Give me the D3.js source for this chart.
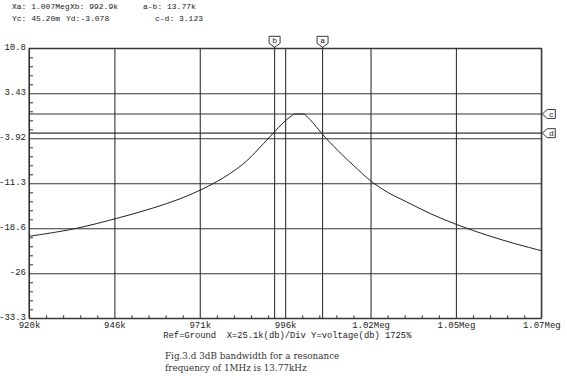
<!DOCTYPE html>
<html><head><meta charset="utf-8">
<script src="https://cdn.jsdelivr.net/npm/d3@7"></script>
<style>
html,body{margin:0;padding:0;background:#fff;}
svg{display:block;}
</style></head>
<body>
<script>
// ---- data (frequency in kHz, level in dB) ----
const freqs = [920.7, 935.7, 945.8, 957.2, 965.1, 971.0, 975.9, 980.0, 984.7, 989.6, 992.5, 995.4, 997.4, 998.9, 1001.3, 1003.3, 1005.3, 1006.7, 1009.0, 1011.5, 1013.1, 1016.0, 1021.2, 1026.0, 1031.7, 1039.0, 1046.4, 1056.2, 1071.3];
const levels = [-19.93, -18.5, -17.1, -15.3, -13.8, -12.4, -11.0, -9.6, -7.6, -4.8, -3.08, -1.4, -0.45, 0.045, 0.045, -0.85, -2.15, -3.08, -4.5, -5.9, -6.8, -8.3, -10.9, -12.7, -14.3, -16.3, -18.0, -19.9, -22.28];
const xTickVals = [920.7, 945.8, 970.9, 996.0, 1021.1, 1046.2, 1071.3];
const xTickLabels = ["920k", "946k", "971k", "996k", "1.02Meg", "1.05Meg", "1.07Meg"];
const yTickVals = [10.78, 3.43, -3.92, -11.27, -18.62, -25.97, -33.32];
const yTickLabels = ["10.8", "3.43", "-3.92", "-11.3", "-18.6", "-26", "-33.3"];
const cursorXNames = ["a", "b"];
const cursorXVals = [1007.0, 992.9];
const cursorYNames = ["c", "d"];
const cursorYVals = [0.0452, -3.078];
const headerLine1 = ["Xa: 1.007Meg", "Xb: 992.9k", "a-b: 13.77k"];
const headerLine2 = ["Yc: 45.20m", "Yd:-3.078", "c-d: 3.123"];
const footer = "Ref=Ground  X=25.1k(db)/Div Y=voltage(db) 1725%";
const caption = ["Fig.3.d 3dB bandwidth for a resonance", "frequency of 1MHz is 13.77kHz"];

// ---- layout ----
const W = 567, H = 376;
const L = 29, R = 541.3, T = 48.3, B = 318.3;
const ink = "#222";
const mono = "'Liberation Mono', 'DejaVu Sans Mono', monospace";

const svg = d3.select("body").append("svg").attr("width", W).attr("height", H);
svg.append("rect").attr("width", W).attr("height", H).attr("fill", "#fff");

const x = d3.scaleLinear().domain([xTickVals[0], xTickVals[xTickVals.length-1]]).range([L, R]);
const y = d3.scaleLinear().domain([yTickVals[yTickVals.length-1], yTickVals[0]]).range([B, T]);

// grid + labels
const gx = svg.append("g").attr("transform", `translate(0,${B})`)
  .call(d3.axisBottom(x).tickValues(xTickVals).tickSize(-(B - T)).tickPadding(3)
    .tickFormat((d, i) => xTickLabels[i]));
const gy = svg.append("g").attr("transform", `translate(${L},0)`)
  .call(d3.axisLeft(y).tickValues(yTickVals).tickSize(-(R - L)).tickPadding(3)
    .tickFormat((d, i) => yTickLabels[i]));
[gx, gy].forEach(g => {
  g.select(".domain").remove();
  g.selectAll(".tick line").attr("stroke", "#333").attr("stroke-width", 1.1);
  g.selectAll(".tick text").attr("fill", ink).style("font-family", mono).style("font-size", "9px");
});
gx.selectAll(".tick text").attr("dy", "0.8em");
gy.selectAll(".tick text").attr("dy", "0.15em");

// minor ticks
const xStep = (xTickVals[1] - xTickVals[0]) / 5;
const xMinor = d3.range(xTickVals[0], xTickVals[xTickVals.length-1] + 0.01, xStep).filter((d, i) => i % 5 !== 0);
svg.append("g").attr("transform", `translate(0,${B})`)
  .call(d3.axisBottom(x).tickValues(xMinor).tickSize(-3).tickFormat(""))
  .call(g => { g.select(".domain").remove(); g.selectAll("line").attr("stroke", "#333"); });
const yStep = (yTickVals[0] - yTickVals[1]) / 5;
const yMinor = d3.range(yTickVals[yTickVals.length-1], yTickVals[0] + 0.01, yStep).filter((d, i) => i % 5 !== 0);
svg.append("g").attr("transform", `translate(${L},0)`)
  .call(d3.axisLeft(y).tickValues(yMinor).tickSize(-4).tickFormat(""))
  .call(g => { g.select(".domain").remove(); g.selectAll("line").attr("stroke", "#333"); });

// frame
svg.append("rect").attr("x", L).attr("y", T).attr("width", R - L).attr("height", B - T)
  .attr("fill", "none").attr("stroke", "#333").attr("stroke-width", 1.1);

// cursors
cursorYVals.forEach((v, i) => {
  const yy = y(v);
  svg.append("line").attr("x1", L).attr("x2", R).attr("y1", yy).attr("y2", yy)
    .attr("stroke", "#333").attr("stroke-width", 1.1);
  const fx = R + 1;
  svg.append("path")
    .attr("d", `M${fx},${yy} L${fx+5},${yy-4.5} L${fx+13},${yy-4.5} L${fx+13},${yy+4.5} L${fx+5},${yy+4.5} Z`)
    .attr("fill", "#fff").attr("stroke", ink).attr("stroke-width", 0.9);
  svg.append("text").attr("x", fx + 9).attr("y", yy + 3).attr("text-anchor", "middle")
    .attr("fill", ink).style("font-family", mono).style("font-size", "8px").text(cursorYNames[i]);
});
cursorXVals.forEach((v, i) => {
  const xx = x(v);
  svg.append("line").attr("x1", xx).attr("x2", xx).attr("y1", T - 2).attr("y2", B)
    .attr("stroke", "#333").attr("stroke-width", 1.1);
  svg.append("path")
    .attr("d", `M${xx-5.5},${T-12} L${xx+5.5},${T-12} L${xx+5.5},${T-5} L${xx},${T-1} L${xx-5.5},${T-5} Z`)
    .attr("fill", "#fff").attr("stroke", ink).attr("stroke-width", 0.9);
  svg.append("text").attr("x", xx).attr("y", T - 5).attr("text-anchor", "middle")
    .attr("fill", ink).style("font-family", mono).style("font-size", "8px").text(cursorXNames[i]);
});

// curve
const pts = freqs.map((f, i) => [f, levels[i]]);
svg.append("path").datum(pts)
  .attr("d", d3.line().x(d => x(d[0])).y(d => y(d[1])).curve(d3.curveMonotoneX))
  .attr("fill", "none").attr("stroke", "#222").attr("stroke-width", 1);

// header
const hx = [12, 70, 143];
const hx2 = [12, 66, 155];
headerLine1.forEach((t, i) => svg.append("text").attr("x", hx[i]).attr("y", 9)
  .attr("fill", ink).style("font-family", mono).style("font-size", "8px").text(t));
headerLine2.forEach((t, i) => svg.append("text").attr("x", hx2[i]).attr("y", 20.5)
  .attr("fill", ink).style("font-family", mono).style("font-size", "8px").text(t));

// footer
svg.append("text").attr("x", 163.3).attr("y", 338).attr("fill", ink)
  .style("font-family", mono).style("font-size", "8.8px").style("white-space", "pre")
  .attr("xml:space", "preserve").text(footer);

// caption
caption.forEach((t, i) => svg.append("text").attr("x", 165).attr("y", 358.5 + i * 12)
  .attr("fill", "#333").style("font-family", "'DejaVu Serif', 'Liberation Serif', serif")
  .style("font-size", "8.8px").text(t));
</script>
</body></html>
